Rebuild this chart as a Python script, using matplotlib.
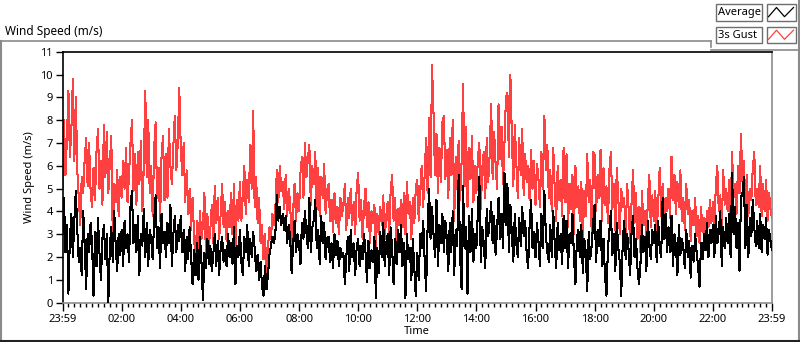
import numpy as np
import matplotlib
matplotlib.use("Agg")
import matplotlib.pyplot as plt
from matplotlib.lines import Line2D
from matplotlib.patches import Rectangle

plt.rcParams['font.family'] = ['Noto Sans', 'DejaVu Sans']

# time in hours since 23:59 of previous day, 3-minute steps
step_h = 0.05
gust = [
    5.0, 8.0, 5.6, 7.2, 9.3, 6.4, 7.6, 9.8, 6.2, 9.0,
    5.8, 4.6, 3.4, 5.5, 4.8, 6.3, 7.2, 5.1, 7.0, 4.9,
    4.2, 5.9, 4.5, 6.6, 7.6, 5.0, 6.2, 4.3, 7.8, 5.5,
    7.5, 4.8, 6.1, 7.3, 2.9, 5.2, 4.4, 5.8, 3.8, 5.5,
    4.6, 6.2, 5.0, 6.8, 4.4, 5.6, 7.0, 8.0, 4.9, 6.5,
    4.3, 6.6, 5.2, 7.1, 4.0, 6.0, 9.3, 5.5, 8.0, 4.8,
    6.0, 3.8, 6.8, 7.9, 4.6, 5.9, 3.6, 6.4, 7.3, 4.5,
    6.5, 4.6, 7.6, 6.0, 5.2, 6.9, 8.2, 5.8, 7.0, 9.4,
    6.8, 5.6, 7.0, 4.4, 5.8, 3.9, 5.0, 3.2, 4.6, 3.0,
    1.6, 3.6, 2.4, 4.0, 2.8, 3.4, 4.8, 2.1, 3.9, 2.5,
    3.2, 4.3, 2.6, 5.1, 3.5, 4.6, 2.8, 3.9, 5.2, 3.3,
    4.4, 2.7, 4.0, 3.3, 4.8, 3.0, 5.2, 2.5, 4.5, 3.6,
    5.3, 3.6, 4.7, 6.0, 3.9, 5.4, 4.4, 6.9, 5.0, 8.4,
    4.2, 5.5, 3.5, 4.6, 2.6, 3.4, 1.9, 3.0, 1.2, 2.4,
    3.3, 2.8, 3.9, 3.4, 4.1, 5.8, 4.4, 6.0, 4.9, 5.3,
    4.1, 5.6, 3.8, 5.0, 4.4, 2.5, 4.0, 5.2, 3.6, 4.8,
    4.0, 5.7, 6.4, 4.6, 7.0, 5.5, 6.3, 6.9, 4.3, 6.0,
    5.2, 6.6, 4.1, 5.9, 3.8, 5.5, 4.6, 6.1, 3.9, 4.9,
    5.2, 3.6, 4.5, 3.1, 4.8, 3.5, 4.2, 3.0, 4.6, 3.8,
    4.3, 5.2, 3.2, 4.6, 3.7, 5.0, 3.4, 4.4, 3.0, 5.0,
    5.7, 3.6, 4.5, 2.8, 4.2, 5.0, 3.3, 4.4, 2.6, 4.0,
    3.5, 4.3, 2.5, 3.9, 3.0, 4.2, 3.4, 4.7, 2.8, 3.8,
    4.4, 3.0, 4.9, 5.6, 3.6, 4.6, 2.7, 4.1, 3.4, 4.5,
    3.3, 4.8, 3.0, 5.3, 3.9, 4.4, 2.8, 4.6, 3.5, 5.0,
    5.4, 3.6, 4.9, 6.0, 4.2, 5.6, 7.2, 4.8, 8.1, 5.5,
    10.4, 8.3, 5.6, 7.4, 4.8, 6.8, 5.3, 7.9, 8.2, 5.4,
    6.7, 4.6, 7.2, 5.6, 8.0, 3.6, 6.4, 5.0, 7.1, 4.5,
    6.2, 9.6, 5.1, 7.7, 4.2, 6.8, 5.4, 7.3, 4.4, 6.0,
    4.8, 6.3, 7.0, 4.1, 5.9, 6.6, 4.6, 7.2, 5.3, 6.5,
    8.7, 5.4, 7.5, 6.1, 5.0, 8.7, 6.3, 7.7, 5.2, 7.0,
    9.0, 9.2, 6.4, 10.0, 7.3, 5.1, 7.8, 6.2, 4.6, 7.2,
    5.6, 7.6, 4.7, 6.5, 5.3, 6.0, 4.5, 6.7, 5.0, 6.2,
    4.3, 6.1, 5.4, 4.2, 6.6, 5.0, 8.2, 5.8, 6.9, 4.6,
    5.8, 4.0, 6.8, 5.0, 3.6, 6.0, 4.5, 5.4, 3.8, 6.8,
    4.4, 6.5, 3.3, 5.2, 4.1, 5.6, 3.0, 6.0, 4.2, 5.1,
    3.6, 5.3, 2.7, 4.9, 3.8, 6.5, 4.4, 5.4, 3.1, 6.6,
    6.5, 4.0, 5.6, 4.6, 6.7, 3.6, 5.9, 4.3, 5.1, 3.5,
    5.8, 6.6, 4.1, 5.2, 3.2, 5.9, 4.6, 3.0, 5.0, 4.2,
    4.6, 3.0, 5.2, 4.1, 2.6, 4.4, 5.8, 3.5, 4.8, 2.8,
    4.2, 2.2, 4.9, 3.4, 4.0, 2.6, 4.5, 5.6, 3.3, 4.7,
    3.6, 4.9, 3.1, 4.4, 5.9, 3.8, 5.2, 3.3, 4.6, 4.0,
    5.0, 3.7, 6.4, 4.5, 5.6, 3.9, 5.3, 4.2, 5.8, 3.6,
    4.6, 3.2, 5.2, 3.9, 4.5, 2.7, 4.0, 3.4, 4.6, 2.9,
    3.8, 2.6, 4.2, 3.1, 3.7, 2.9, 4.0, 3.3, 4.5, 3.5,
    4.4, 3.4, 5.1, 6.0, 4.0, 4.7, 3.2, 5.8, 4.3, 5.0,
    4.0, 5.4, 3.7, 6.6, 4.6, 5.2, 3.9, 6.0, 4.8, 7.4,
    5.3, 6.2, 4.1, 5.6, 3.8, 5.0, 4.5, 5.9, 6.6, 4.3,
    5.0, 4.2, 6.0, 3.8, 5.2, 4.0, 5.4, 3.6, 4.8, 4.1,
    3.7,
]
average = [
    3.0, 4.6, 2.2, 3.4, 0.4, 2.8, 3.9, 2.0, 3.6, 4.9,
    3.2, 1.8, 2.4, 1.2, 4.0, 2.6, 0.6, 3.0, 2.2, 3.5,
    2.6, 0.3, 3.1, 1.6, 3.7, 2.2, 1.0, 2.8, 3.4, 1.9,
    3.0, 0.0, 2.4, 3.3, 1.8, 4.0, 2.5, 1.4, 3.0, 2.1,
    3.2, 1.6, 3.6, 2.4, 3.0, 1.8, 4.2, 4.9, 2.6, 3.4,
    2.2, 3.8, 1.2, 3.0, 2.5, 4.1, 2.0, 3.5, 1.6, 3.2,
    2.8, 1.9, 3.6, 4.7, 2.4, 3.3, 1.5, 3.9, 2.6, 3.1,
    2.0, 3.5, 2.6, 4.3, 1.6, 3.0, 3.8, 2.2, 3.4, 2.7,
    3.8, 2.2, 3.2, 1.4, 2.9, 1.9, 3.3, 2.0, 0.8, 2.3,
    1.2, 2.6, 1.0, 2.9, 1.8, 0.1, 2.2, 1.5, 2.8, 1.7,
    2.5, 1.4, 2.1, 3.0, 1.6, 2.7, 1.2, 2.4, 2.9, 1.8,
    2.3, 1.6, 3.0, 2.0, 2.6, 1.7, 3.3, 0.8, 2.5, 2.0,
    3.2, 1.8, 1.2, 2.9, 2.2, 3.4, 1.6, 2.8, 2.0, 3.1,
    2.4, 1.4, 2.1, 1.0, 1.8, 0.7, 0.3, 1.6, 0.6, 1.2,
    2.1, 2.5, 2.9, 2.6, 3.0, 4.7, 3.6, 4.2, 3.4, 3.9,
    3.2, 3.8, 2.6, 3.4, 2.9, 1.3, 2.5, 3.6, 2.2, 3.0,
    2.6, 1.7, 3.5, 2.8, 4.0, 3.1, 2.4, 4.6, 2.2, 3.3,
    3.6, 4.5, 2.4, 3.2, 1.7, 3.8, 2.6, 3.5, 1.9, 2.8,
    2.9, 1.8, 2.6, 1.5, 3.0, 2.1, 2.7, 1.6, 2.4, 2.0,
    2.2, 0.8, 2.0, 2.9, 1.4, 3.2, 2.0, 2.6, 1.2, 2.4,
    2.8, 1.6, 2.5, 1.9, 3.0, 2.2, 0.9, 2.7, 1.5, 2.3,
    1.8, 2.9, 0.2, 2.4, 1.3, 3.1, 2.0, 3.5, 1.6, 2.6,
    3.0, 1.2, 3.3, 2.4, 0.8, 2.8, 1.7, 3.2, 2.2, 3.4,
    1.6, 2.6, 0.2, 3.0, 1.9, 2.4, 1.0, 2.8, 1.5, 0.3,
    2.2, 1.0, 3.0, 2.4, 3.6, 1.9, 0.5, 3.3, 5.0, 2.8,
    4.2, 3.0, 2.0, 4.5, 1.6, 3.4, 2.6, 3.9, 2.2, 3.6,
    2.8, 1.4, 3.5, 2.2, 4.0, 1.2, 3.2, 2.5, 5.6, 2.0,
    0.6, 5.1, 2.4, 3.3, 0.4, 3.8, 2.2, 4.1, 1.8, 3.0,
    2.4, 4.0, 5.5, 1.8, 3.3, 2.6, 1.5, 4.1, 2.9, 3.6,
    4.4, 2.6, 3.8, 2.1, 3.2, 4.6, 2.8, 3.9, 2.4, 5.7,
    3.4, 5.2, 2.2, 4.3, 3.0, 1.8, 3.9, 2.6, 2.0, 3.7,
    2.5, 4.2, 2.9, 3.6, 2.2, 1.5, 3.4, 4.5, 2.4, 3.1,
    2.0, 3.5, 2.7, 1.6, 3.9, 2.4, 4.9, 3.0, 2.2, 1.8,
    3.4, 2.0, 4.0, 2.6, 1.5, 3.5, 2.3, 3.0, 1.7, 3.8,
    2.4, 3.6, 1.5, 3.0, 2.6, 3.9, 2.0, 0.8, 2.8, 3.2,
    2.0, 3.4, 1.3, 2.8, 2.2, 0.5, 3.1, 1.9, 2.5, 3.5,
    4.3, 1.8, 3.2, 2.5, 3.6, 1.6, 2.8, 1.2, 0.3, 2.4,
    3.2, 4.0, 2.1, 3.0, 1.4, 3.5, 2.4, 1.8, 0.3, 2.6,
    3.6, 1.9, 3.0, 2.3, 1.2, 3.1, 3.8, 2.0, 2.8, 1.5,
    0.8, 1.7, 3.4, 2.2, 2.9, 1.4, 3.6, 2.5, 1.9, 3.2,
    2.6, 3.4, 1.8, 3.6, 2.4, 2.0, 4.6, 2.8, 3.9, 2.2,
    3.3, 2.2, 3.8, 1.6, 3.0, 2.5, 1.2, 3.4, 2.1, 2.8,
    2.4, 1.5, 3.2, 2.0, 2.7, 1.1, 2.5, 1.8, 3.0, 2.2,
    1.6, 0.7, 2.6, 1.9, 3.0, 2.3, 3.5, 2.0, 3.2, 2.6,
    3.4, 2.0, 3.8, 2.6, 3.1, 4.0, 1.6, 3.3, 2.4, 3.7,
    2.6, 3.9, 2.0, 5.7, 3.0, 4.2, 2.4, 3.5, 1.4, 4.6,
    4.8, 5.5, 2.4, 4.3, 2.0, 3.7, 2.9, 4.5, 3.3, 2.5,
    3.6, 2.4, 3.9, 2.2, 3.4, 2.8, 3.7, 2.1, 3.2, 2.7,
    2.3,
]
tick_hours = [0, 2, 4, 6, 8, 10, 12, 14, 16, 18, 20, 22, 24]
tick_labels = ["23:59", "02:00", "04:00", "06:00", "08:00", "10:00", "12:00",
               "14:00", "16:00", "18:00", "20:00", "22:00", "23:59"]
series_names = ["Average", "3s Gust"]
series_colors = ["#000000", "#ff4040"]

t = np.arange(len(gust)) * step_h

W, H = 800, 342
fig = plt.figure(figsize=(W / 100, H / 100), dpi=100)
fig.patch.set_facecolor("white")

def fx(px):
    return px / W

def fy(py):
    return 1 - py / H

ax = fig.add_axes([fx(62.5), fy(302.7), fx(772) - fx(62.5), fy(51.7) - fy(302.7)])
ax.plot(t, average, color=series_colors[0], lw=0.75, zorder=3, antialiased=False)
ax.plot(t, gust, color=series_colors[1], lw=0.75, zorder=2, antialiased=False)
ax.set_xlim(0, 24)
ax.set_ylim(0, 11)

ax.set_xticks(tick_hours)
ax.set_xticklabels(tick_labels)
ax.set_xticks(np.arange(0, 24.01, 0.2), minor=True)
ax.set_yticks(range(0, 12))
ax.tick_params(axis="both", which="major", labelsize=8, colors="#000000",
               direction="out", length=5, width=1, pad=2)
ax.tick_params(axis="x", which="minor", length=3, width=1, color="#000000")
ax.tick_params(axis="y", which="major", length=5, pad=2)
ax.tick_params(axis="x", which="major", length=6, pad=2)

ax.spines["top"].set_color("#000000")
ax.spines["left"].set_color("#000000")
ax.spines["right"].set_color("#8c8c8c")
ax.spines["bottom"].set_color("#8c8c8c")
for s in ax.spines.values():
    s.set_linewidth(1.2)

ax.set_ylabel("Wind Speed (m/s)", fontsize=8, labelpad=4)
ax.set_xlabel("Time", fontsize=8, labelpad=1)

# chart caption
fig.text(fx(5), fy(31.5), "Wind Speed (m/s)", fontsize=8.5, va="center", ha="left")

# outer frame lines
gray = "#8a8a8a"
fig.add_artist(Line2D([fx(0.5), fx(711)], [fy(41), fy(41)], color=gray, lw=1.2))
fig.add_artist(Line2D([fx(711), fx(711)], [fy(41), fy(47)], color=gray, lw=1.2))
fig.add_artist(Line2D([fx(711), fx(799)], [fy(50), fy(50)], color=gray, lw=1.2))
fig.add_artist(Line2D([fx(0.8), fx(0.8)], [fy(41), fy(341)], color=gray, lw=1.5))
fig.add_artist(Line2D([fx(799), fx(799)], [fy(0), fy(341)], color=gray, lw=1.5))
fig.add_artist(Line2D([fx(0), fx(800)], [fy(340.8), fy(340.8)], color="#222222", lw=1.5))

# legend boxes
rows = [(4, 20.7), (26.7, 43.3)]
for (y0, y1), name, col in zip(rows, series_names, series_colors):
    fig.add_artist(Rectangle((fx(715.5), fy(y1)), fx(762) - fx(715.5), fy(y0) - fy(y1),
                             transform=fig.transFigure, facecolor="white",
                             edgecolor="#6e6e6e", lw=1.0))
    fig.add_artist(Rectangle((fx(766.5), fy(y1)), fx(796) - fx(766.5), fy(y0) - fy(y1),
                             transform=fig.transFigure, facecolor="white",
                             edgecolor="#6e6e6e", lw=1.0))
    fig.text(fx(718), fy((y0 + y1) / 2 + 0.5), name, fontsize=8, va="center", ha="left")
    ylo, yhi = y1 - 4, y0 + 3.5
    fig.add_artist(Line2D([fx(768.5), fx(776.5), fx(784.5), fx(793.5)],
                          [fy(ylo), fy(yhi), fy(ylo), fy(yhi)],
                          color=col, lw=0.9))

fig.savefig("out.png", dpi=100)
